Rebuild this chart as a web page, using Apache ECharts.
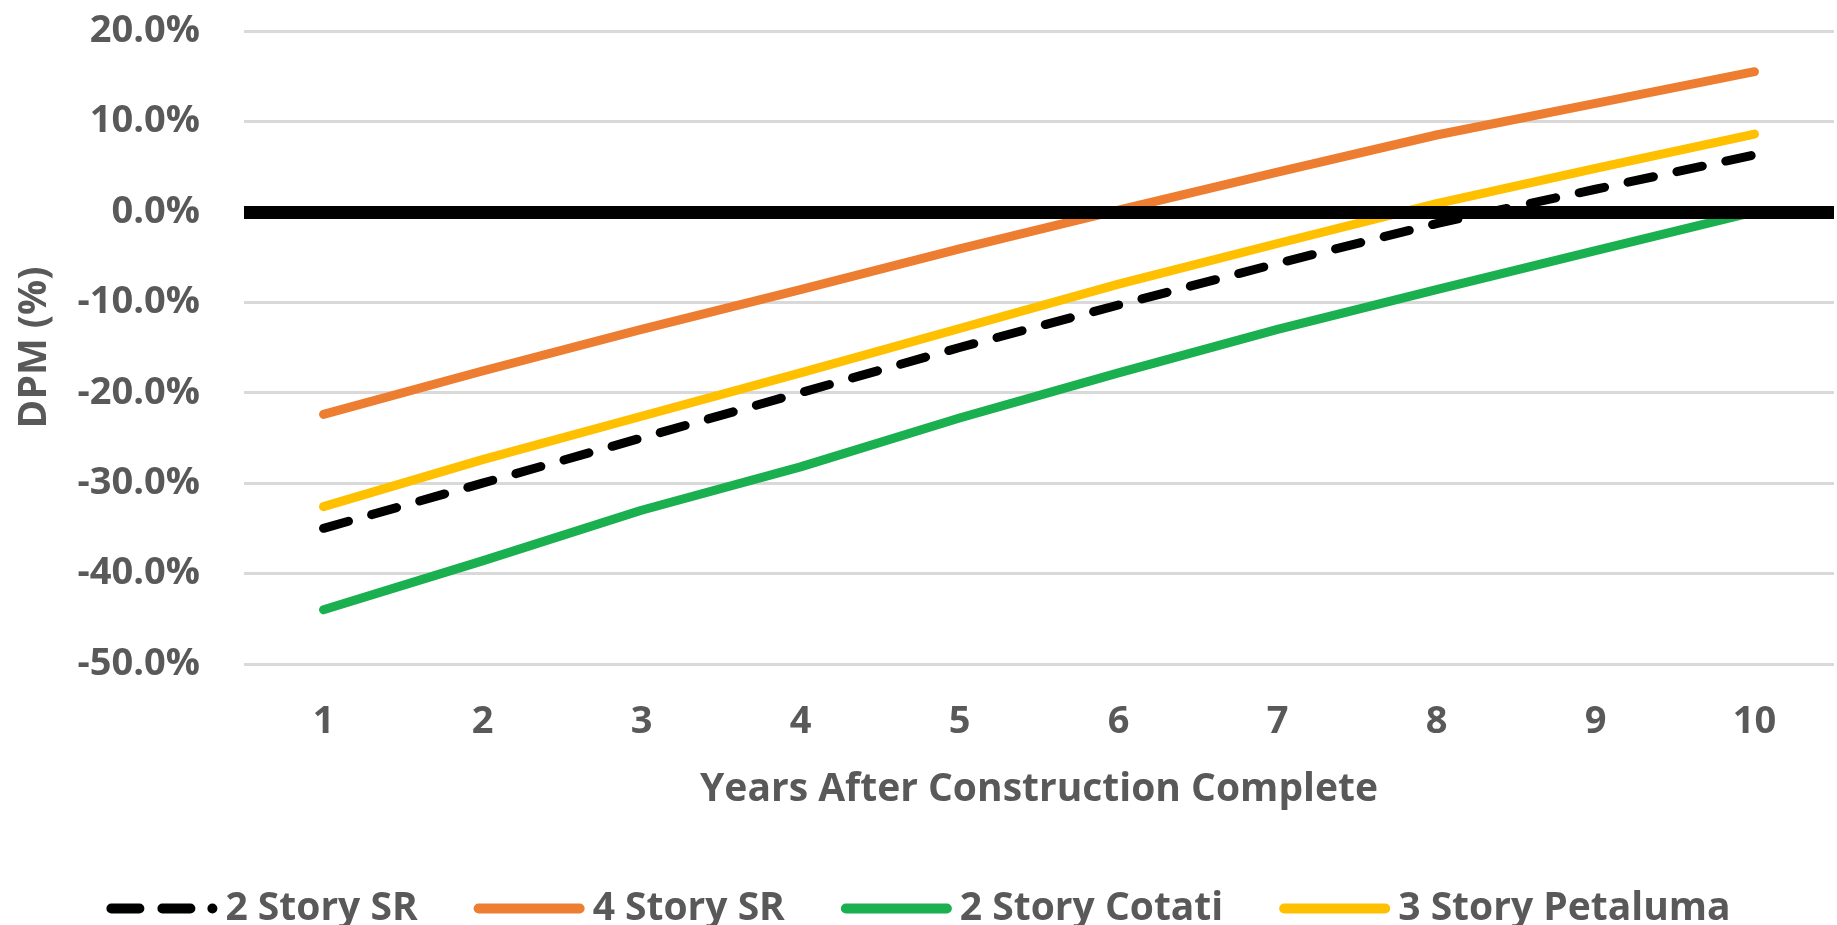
<!DOCTYPE html>
<html>
<head>
<meta charset="utf-8">
<script src="https://cdn.jsdelivr.net/npm/echarts@6/dist/echarts.min.js"></script>
<style>
  html, body { margin: 0; padding: 0; background: #fff; }
  #chart { width: 1837px; height: 925px; }
</style>
</head>
<body>
<div id="chart"></div>
<script>
// Years after construction complete
const years = ['1', '2', '3', '4', '5', '6', '7', '8', '9', '10'];

// DPM (%) by building type
const story2SR       = [-35.0, -30.0, -25.0, -20.0, -15.0, -10.3, -5.7, -1.3, 2.5, 6.3];
const story4SR       = [-22.4, -17.6, -13.0, -8.6, -4.1, 0.2, 4.4, 8.5, 12.0, 15.5];
const story2Cotati   = [-44.0, -38.6, -33.0, -28.2, -22.8, -17.8, -13.0, -8.6, -4.3, 0.0];
const story3Petaluma = [-32.6, -27.4, -22.6, -17.8, -12.9, -8.0, -3.5, 0.9, 4.8, 8.6];

// Value axis range and step (percent)
const yMin = -50, yMax = 20, yStep = 10;

const FONT = "'Open Sans', 'Noto Sans', sans-serif";
const GREY = '#595959';

// Legend keys: a rounded bar for solid lines, two dashes and a dot for the dashed line
const ICON_SOLID = 'path://M5,0 H106 A5,5 0 0 1 106,10 H5 A5,5 0 0 1 5,0 Z';
const ICON_DASHED = 'path://M5,0 H33 A5,5 0 0 1 33,10 H5 A5,5 0 0 1 5,0 Z ' +
                    'M56,0 H84 A5,5 0 0 1 84,10 H56 A5,5 0 0 1 56,0 Z ' +
                    'M106,0 A5,5 0 0 1 106,10 A5,5 0 0 1 106,0 Z';

const chart = echarts.init(document.getElementById('chart'), null, { renderer: 'canvas' });

function lineSeries(name, data, color, dashed) {
  return {
    name: name,
    type: 'line',
    data: data,
    symbol: 'none',
    z: 3,
    lineStyle: {
      color: color,
      width: 9,
      cap: 'round',
      join: 'round',
      type: dashed ? [26, 24] : 'solid'
    },
    itemStyle: { color: color }
  };
}

chart.setOption({
  animation: false,
  backgroundColor: '#ffffff',
  textStyle: { fontFamily: FONT },
  grid: { left: 244, right: 3, top: 31, bottom: 261, containLabel: false, outerBoundsMode: 'none' },
  xAxis: {
    type: 'category',
    data: years,
    boundaryGap: true,
    axisLine: { show: false },
    axisTick: { show: false },
    axisLabel: { color: GREY, fontFamily: FONT, fontWeight: 'bold', fontSize: 38, margin: 39 },
    name: 'Years After Construction Complete',
    nameLocation: 'middle',
    nameGap: 106,
    nameTextStyle: { color: GREY, fontFamily: FONT, fontWeight: 'bold', fontSize: 39 }
  },
  yAxis: {
    type: 'value',
    min: yMin,
    max: yMax,
    interval: yStep,
    axisLine: { show: false },
    axisTick: { show: false },
    splitLine: { lineStyle: { color: '#d9d9d9', width: 3 } },
    axisLabel: {
      color: GREY, fontFamily: FONT, fontWeight: 'bold', fontSize: 38, margin: 44,
      formatter: v => v.toFixed(1) + '%'
    },
    name: 'DPM (%)',
    nameLocation: 'middle',
    nameGap: 190,
    nameTextStyle: { color: GREY, fontFamily: FONT, fontWeight: 'bold', fontSize: 39 }
  },
  legend: {
    data: [
      { name: '2 Story SR', icon: ICON_DASHED },
      { name: '4 Story SR', icon: ICON_SOLID },
      { name: '2 Story Cotati', icon: ICON_SOLID },
      { name: '3 Story Petaluma', icon: ICON_SOLID }
    ],
    left: 'center',
    top: 884,
    itemWidth: 111,
    itemHeight: 10,
    itemGap: 56,
    textStyle: { color: GREY, fontFamily: FONT, fontWeight: 'bold', fontSize: 39, padding: [0, 0, 0, 3] }
  },
  series: [
    {
      name: 'zero',
      type: 'line',
      data: [],
      z: 1,
      silent: true,
      markLine: {
        silent: true,
        symbol: 'none',
        label: { show: false },
        lineStyle: { color: '#000000', width: 13, type: 'solid' },
        data: [{ yAxis: 0 }]
      }
    },
    lineSeries('2 Story SR', story2SR, '#000000', true),
    lineSeries('4 Story SR', story4SR, '#ED7D31', false),
    lineSeries('2 Story Cotati', story2Cotati, '#1AB04F', false),
    lineSeries('3 Story Petaluma', story3Petaluma, '#FFC000', false)
  ]
});
</script>
</body>
</html>
